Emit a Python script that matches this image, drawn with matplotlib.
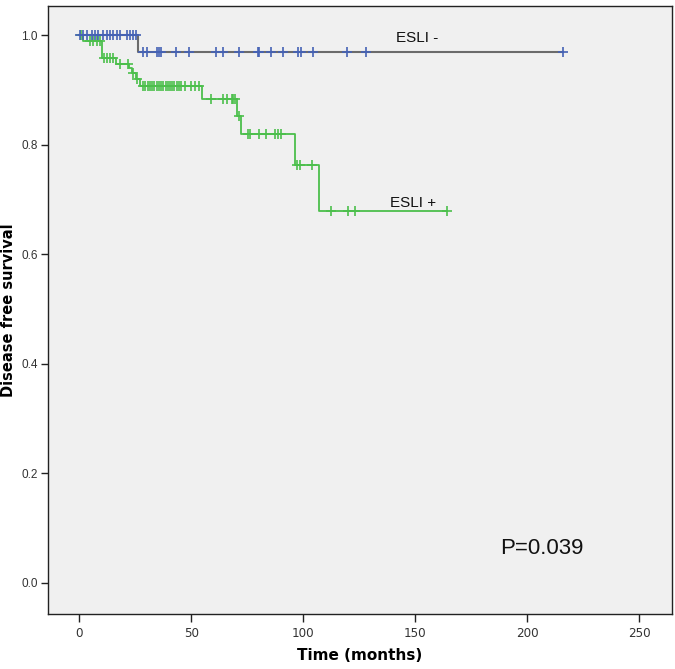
import matplotlib
matplotlib.use("Agg")
import matplotlib.pyplot as plt
import numpy as np

# ESLI - group (Kaplan-Meier steps)
neg_event_t = [0, 26.3]
neg_event_s = [1.0, 0.969]
neg_end = 216
neg_cens_t = [0.3, 1.6, 3.4, 5.7, 7.0, 8.3, 10.6, 12.4, 13.7, 15.2, 16.8, 18.1, 21.3, 22.6, 24.0, 25.3,
              28.6, 30.1, 34.6, 35.7, 36.3, 43.0, 49.1, 61.0, 64.0, 71.4, 79.6, 80.4, 85.6, 91.1,
              97.6, 99.0, 104.2, 119.5, 128.0, 216.0]

# ESLI + group
pos_event_t = [0, 1.5, 10.0, 16.5, 22.0, 23.5, 25.5, 27.0, 55.0, 70.5, 72.0, 96.3, 107.0]
pos_event_s = [1.0, 0.990, 0.959, 0.948, 0.939, 0.930, 0.920, 0.907, 0.884, 0.853, 0.820, 0.763, 0.678]
pos_end = 164.2
pos_cens_t = [0.8, 4.8, 6.2, 8.0, 9.2, 10.8, 12.4, 13.7, 15.0, 18.0, 21.6, 24.0, 25.8,
              28.5, 29.5, 30.5, 31.5, 32.5, 33.5, 34.5, 35.5, 36.5, 37.5, 38.5, 39.5, 40.5, 41.5,
              42.5, 43.5, 44.5, 45.5, 47.0, 50.0, 51.6, 53.4,
              59.0, 64.3, 65.8, 68.0, 68.8, 69.5, 71.3,
              75.5, 76.2, 80.2, 83.2, 87.4, 88.8, 89.9,
              97.0, 98.5, 104.0, 112.2, 120.1, 123.1, 164.2]

x_ticks = [0, 50, 100, 150, 200, 250]
y_ticks = [0.0, 0.2, 0.4, 0.6, 0.8, 1.0]

def step_xy(ts, ss, end):
    xs = list(ts) + [end]
    ys = list(ss) + [ss[-1]]
    return xs, ys

def surv_at(ts, ss, t):
    idx = np.searchsorted(ts, t, side="right") - 1
    return np.array(ss)[np.clip(idx, 0, None)]

fig = plt.figure(figsize=(6.75, 6.69), dpi=100)
fig.patch.set_facecolor("white")
ax = fig.add_axes([0.0704, 0.0822, 0.9246, 0.9088])
ax.set_facecolor("#f0f0f0")

green = "#4cbf4c"
blue = "#4562b5"
gray = "#6b6b6b"

xs, ys = step_xy(neg_event_t, neg_event_s, neg_end)
ax.step(xs, ys, where="post", color=gray, lw=1.5, zorder=2)
xs, ys = step_xy(pos_event_t, pos_event_s, pos_end)
ax.step(xs, ys, where="post", color=green, lw=1.3, zorder=3)

ax.plot(pos_cens_t, surv_at(pos_event_t, pos_event_s, pos_cens_t), linestyle="none",
        marker="+", ms=7, mew=1.2, color=green, zorder=4)
ax.plot(neg_cens_t, surv_at(neg_event_t, neg_event_s, neg_cens_t), linestyle="none",
        marker="+", ms=7, mew=1.2, color=blue, zorder=5)

ax.set_xlim(-14.2, 264.5)
ax.set_ylim(-0.057, 1.053)
ax.set_xticks(x_ticks)
ax.set_xticklabels([str(v) for v in x_ticks])
ax.set_yticks(y_ticks)
ax.set_yticklabels([f"{v:.1f}" for v in y_ticks])

for lab in ax.get_xticklabels():
    lab.set_fontfamily(["Liberation Sans Narrow", "DejaVu Sans"])
    lab.set_fontstretch("condensed")
    lab.set_fontsize(9.5)
for lab in ax.get_yticklabels():
    lab.set_fontfamily(["Liberation Sans", "DejaVu Sans"])
    lab.set_fontsize(8.5)

ax.tick_params(axis="both", direction="out", length=6, width=1.0, color="#222222", labelcolor="#333333")
ax.tick_params(axis="x", pad=3)
ax.tick_params(axis="y", length=5, pad=2)
for sp in ax.spines.values():
    sp.set_color("#222222")
    sp.set_linewidth(1.0)

ax.set_xlabel("Time (months)", fontsize=11, fontweight="bold",
              family=["Liberation Sans Narrow", "DejaVu Sans"], labelpad=6)
ax.set_ylabel("Disease free survival", fontsize=10.5, fontweight="bold",
              family=["DejaVu Sans"], labelpad=4)

lab_font = ["Liberation Sans", "DejaVu Sans"]
ax.text(151, 0.995, "ESLI -", ha="center", va="center", fontsize=11, family=lab_font, color="#111111")
ax.text(149, 0.693, "ESLI +", ha="center", va="center", fontsize=11, family=lab_font, color="#111111")
ax.text(206.5, 0.062, "P=0.039", ha="center", va="center", fontsize=16, family=lab_font, color="#111111")

fig.savefig("out.png", dpi=100)
